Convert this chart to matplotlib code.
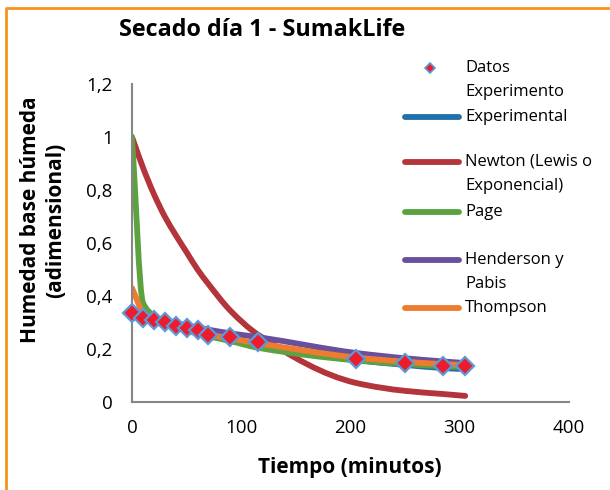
import numpy as np
import matplotlib
matplotlib.use('Agg')
import matplotlib.pyplot as plt
from matplotlib.lines import Line2D
from matplotlib.path import Path
from matplotlib.patches import PathPatch

plt.rcParams['font.family'] = ['Open Sans', 'DejaVu Sans']

# tiempo (minutos)
tiempo = [0, 10, 20, 30, 40, 50, 60, 70, 90, 115, 205, 250, 285, 305]

# humedad base humeda medida
datos_exp = [0.334, 0.317, 0.309, 0.302, 0.287, 0.279, 0.271, 0.254,
             0.245, 0.227, 0.162, 0.146, 0.136, 0.136]

# curvas de los modelos
experimental = [0.335, 0.318, 0.305, 0.294, 0.284, 0.275, 0.266, 0.257,
                0.240, 0.218, 0.158, 0.140, 0.128, 0.124]
newton = [1.0, 0.885, 0.785, 0.70, 0.63, 0.565, 0.50, 0.445,
          0.345, 0.255, 0.072, 0.042, 0.030, 0.023]
page = [1.0, 0.375, 0.325, 0.300, 0.283, 0.270, 0.258, 0.248,
        0.230, 0.205, 0.157, 0.143, 0.135, 0.132]
henderson = [0.330, 0.325, 0.315, 0.305, 0.297, 0.289, 0.281, 0.273,
             0.259, 0.245, 0.185, 0.165, 0.153, 0.147]
thompson = [0.430, 0.340, 0.310, 0.295, 0.285, 0.275, 0.265, 0.255,
            0.240, 0.222, 0.168, 0.152, 0.143, 0.139]

x_ticks = [0, 100, 200, 300, 400]
y_ticks = [0, 0.2, 0.4, 0.6, 0.8, 1.0, 1.2]
y_tick_labels = ['0', '0,2', '0,4', '0,6', '0,8', '1', '1,2']

W, H = 610, 490
fig = plt.figure(figsize=(W / 100, H / 100), dpi=100)


def fx(px):
    return px / W


def fy(py):
    return 1 - py / H


def smooth_path(xs, ys):
    # linea suavizada: tramos Bezier cubicos con pendientes tipo PCHIP
    x = np.asarray(xs, dtype=float)
    y = np.asarray(ys, dtype=float)
    h = np.diff(x)
    d = np.diff(y) / h
    m = np.empty_like(y)
    m[0], m[-1] = d[0], d[-1]
    for k in range(1, len(x) - 1):
        if d[k - 1] * d[k] <= 0:
            m[k] = 0.0
        else:
            w1 = 2 * h[k] + h[k - 1]
            w2 = h[k] + 2 * h[k - 1]
            m[k] = (w1 + w2) / (w1 / d[k - 1] + w2 / d[k])
    verts = [(x[0], y[0])]
    codes = [Path.MOVETO]
    for k in range(len(x) - 1):
        t = h[k] / 3
        verts += [(x[k] + t, y[k] + t * m[k]),
                  (x[k + 1] - t, y[k + 1] - t * m[k + 1]),
                  (x[k + 1], y[k + 1])]
        codes += [Path.CURVE4] * 3
    return Path(verts, codes)


ax = fig.add_axes([fx(132), fy(402), fx(569) - fx(132), fy(84) - fy(402)])

series = [
    ('Experimental', experimental, '#2270a8'),
    ('Newton (Lewis o\nExponencial)', newton, '#b3343a'),
    ('Page', page, '#5ca23f'),
    ('Henderson y\nPabis', henderson, '#6a4f9c'),
    ('Thompson', thompson, '#ee7b30'),
]

lw = 4.2
for label, ys, color in series:
    ax.add_patch(PathPatch(smooth_path(tiempo, ys), fill=False,
                           edgecolor=color, lw=lw, capstyle='round',
                           joinstyle='round'))

ax.plot(tiempo, datos_exp, linestyle='none', marker='D', markersize=9.5,
        markerfacecolor='#ec1c2e', markeredgecolor='#5b9bd5',
        markeredgewidth=1.6, zorder=5, clip_on=False)

ax.set_xlim(0, 400)
ax.set_ylim(0, 1.2)
ax.set_xticks(x_ticks)
ax.set_yticks(y_ticks)
ax.set_yticklabels(y_tick_labels)
ax.tick_params(length=0, labelsize=13.5, pad=14)
ax.tick_params(axis='x', pad=12)
for side in ('top', 'right'):
    ax.spines[side].set_visible(False)
for side in ('left', 'bottom'):
    ax.spines[side].set_color('#868686')
    ax.spines[side].set_linewidth(1.5)

fig.text(fx(262), fy(30), 'Secado día 1 - SumakLife', fontsize=16.8,
         fontweight='bold', ha='center', va='center')
fig.text(fx(350), fy(467), 'Tiempo (minutos)', fontsize=15,
         fontweight='bold', ha='center', va='center')
fig.text(fx(43), fy(220), 'Humedad base húmeda\n(adimensional)', fontsize=15,
         fontweight='bold', ha='center', va='center', rotation=90,
         linespacing=1.3)

# leyenda
row_h = 24.5
legend_rows = [
    ('Datos\nExperimento', None, 68),
] + [(lab, col, y) for (lab, _, col), y in zip(series, [117, 162, 212, 260, 308])]

for label, color, y0 in legend_rows:
    if color is None:
        fig.add_artist(Line2D([fx(430)], [fy(y0)], transform=fig.transFigure,
                              linestyle='none', marker='D', markersize=5,
                              markerfacecolor='#ec1c2e',
                              markeredgecolor='#5b9bd5', markeredgewidth=1.2))
    else:
        fig.add_artist(Line2D([fx(405), fx(459)], [fy(y0), fy(y0)],
                              transform=fig.transFigure, color=color, lw=lw,
                              solid_capstyle='round'))
    for i, line in enumerate(label.split('\n')):
        fig.text(fx(465), fy(y0 + i * row_h), line, fontsize=12,
                 ha='left', va='center')

# marco del grafico
fig.add_artist(Line2D([fx(6), fx(6), fx(612)], [fy(495), fy(8), fy(8)],
                      transform=fig.transFigure, color='#f7941d', lw=2))

fig.savefig('out.png', dpi=100)
